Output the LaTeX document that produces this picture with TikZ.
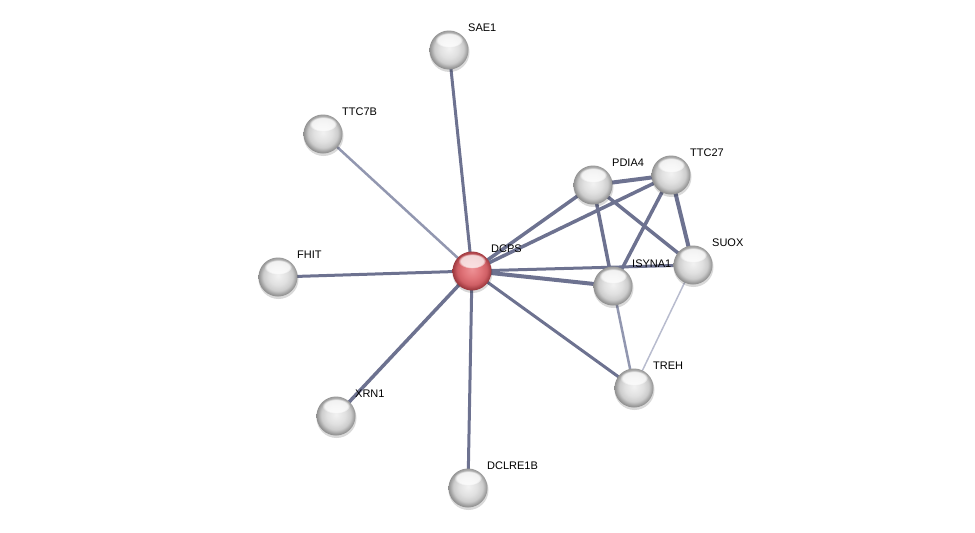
\documentclass[tikz,border=0pt]{standalone}
\usepackage{fontspec}
\setmainfont{Liberation Sans}
\usetikzlibrary{shadings,fadings,shapes.geometric}
\definecolor{edgeC}{HTML}{6D7290}
\definecolor{edgeL}{HTML}{9297B0}
\definecolor{edgeT}{HTML}{B8BCCE}
\pgfdeclareradialshading{greyball}{\pgfpoint{0bp}{2bp}}{%
  color(0bp)=(white!95!black); color(12bp)=(white!88!black); color(19bp)=(white!80!black);
  color(24bp)=(white!60!black); color(27bp)=(white!52!black); color(50bp)=(white!52!black)}
\pgfdeclareradialshading{redball}{\pgfpoint{0bp}{2bp}}{%
  color(0bp)=(rgb,255:red,238;green,145;blue,149); color(12bp)=(rgb,255:red,224;green,115;blue,120);
  color(19bp)=(rgb,255:red,207;green,95;blue,101);
  color(24bp)=(rgb,255:red,165;green,62;blue,68); color(27bp)=(rgb,255:red,140;green,50;blue,56);
  color(50bp)=(rgb,255:red,140;green,50;blue,56)}
\tikzset{
  x=1pt, y=-1pt,
  prot/.style={circle, minimum size=39pt, inner sep=0pt, shading=greyball},
  protred/.style={circle, minimum size=39pt, inner sep=0pt, shading=redball},
  shad/.style={circle, minimum size=40pt, inner sep=0pt, fill=black, opacity=0.15},
  hl/.style={ellipse, minimum width=28pt, minimum height=15pt, inner sep=0pt, fill=white, fill opacity=0.75,
    path fading=circle with fuzzy edge 20 percent},
  lab/.style={anchor=west, font=\fontsize{11}{13}\selectfont, inner sep=0pt},
  e/.style={draw=edgeC, line width=#1},
  el/.style={draw=edgeL, line width=#1},
  et/.style={draw=edgeT, line width=#1},
}
\begin{document}
\begin{tikzpicture}
\useasboundingbox (0,0) rectangle (975,533);
% coordinates
\coordinate (cDCPS) at (472,271);
\coordinate (cSAE1) at (449,50);
\coordinate (cTTC7B) at (323,134);
\coordinate (cFHIT) at (278,277);
\coordinate (cXRN1) at (336,416);
\coordinate (cDCLRE1B) at (468,488);
\coordinate (cPDIA4) at (593,185);
\coordinate (cTTC27) at (671,175);
\coordinate (cSUOX) at (693,265);
\coordinate (cISYNA1) at (613,286);
\coordinate (cTREH) at (634,388);
% edges
\draw[e=3pt] (cDCPS) -- (cSAE1);
\draw[el=2.5pt] (cDCPS) -- (cTTC7B);
\draw[e=3pt] (cDCPS) -- (cFHIT);
\draw[e=3.5pt] (cDCPS) -- (cXRN1);
\draw[e=3pt] (cDCPS) -- (cDCLRE1B);
\draw[e=3.5pt] (cDCPS) -- (cPDIA4);
\draw[e=3.5pt] (cDCPS) -- (cTTC27);
\draw[e=3pt] (cDCPS) -- (cSUOX);
\draw[e=4pt] (cDCPS) -- (cISYNA1);
\draw[e=3pt] (cDCPS) -- (cTREH);
\draw[e=4pt] (cPDIA4) -- (cTTC27);
\draw[e=3.5pt] (cPDIA4) -- (cISYNA1);
\draw[e=3.5pt] (cPDIA4) -- (cSUOX);
\draw[e=3.5pt] (cTTC27) -- (cISYNA1);
\draw[e=4pt] (cTTC27) -- (cSUOX);
\draw[el=2.5pt] (cISYNA1) -- (cTREH);
\draw[et=1.5pt] (cSUOX) -- (cTREH);
% nodes
\foreach \n in {SAE1,TTC7B,FHIT,XRN1,DCLRE1B,PDIA4,TTC27,SUOX,ISYNA1,TREH}{
  \node[shad] at ([shift={(0.5,2)}]c\n) {};
  \node[prot] (\n) at (c\n) {};
  \node[hl] at ([shift={(0,-10)}]c\n) {};
  \node[lab] (l\n) at ([shift={(19,-22)}]c\n) {\n};
}
\node[shad] at ([shift={(0.5,2)}]cDCPS) {};
\node[protred] (DCPS) at (cDCPS) {};
\node[hl] at ([shift={(0,-10)}]cDCPS) {};
\node[lab] (lDCPS) at ([shift={(19,-22)}]cDCPS) {DCPS};
\end{tikzpicture}
\end{document}
